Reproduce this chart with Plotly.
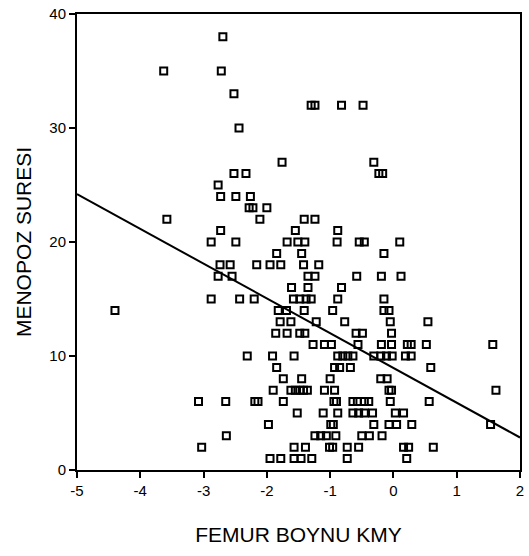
import plotly.graph_objects as go

# MENOPOZ SURESI (integer years) -> list of FEMUR BOYNU KMY values read per row
rows = {
    38: [-2.695],
    35: [-3.63, -2.72],
    33: [-2.52],
    32: [-1.30, -1.24, -0.82, -0.48],
    30: [-2.44],
    27: [-1.76, -0.31],
    26: [-2.52, -2.33, -0.23, -0.17],
    25: [-2.77],
    24: [-2.73, -2.49, -2.26],
    23: [-2.28, -2.22, -2.00],
    22: [-3.58, -2.11, -1.41, -1.24],
    21: [-2.73, -1.55, -0.88],
    20: [-2.88, -2.49, -1.68, -1.51, -1.40, -0.89, -0.54, -0.46, 0.10],
    19: [-1.845, -1.45, -0.15],
    18: [-2.74, -2.58, -2.16, -1.95, -1.78, -1.42, -1.18],
    17: [-2.77, -2.55, -1.35, -1.24, -0.58, -0.19, 0.12],
    16: [-1.61, -1.35, -0.82],
    15: [-2.88, -2.43, -2.20, -1.58, -1.48, -1.38, -1.30, -0.88, -0.15],
    14: [-4.40, -1.82, -1.69, -1.41, -0.96, -0.15, -0.07],
    13: [-1.79, -1.62, -1.22, -0.77, -0.05, 0.545],
    12: [-1.86, -1.68, -1.48, -1.40, -0.59, -0.49, -0.03],
    11: [-1.27, -1.09, -0.98, -0.56, -0.19, -0.03, 0.22, 0.28, 0.52, 1.57],
    10: [-2.31, -1.91, -1.57, -0.88, -0.80, -0.72, -0.64, -0.31, -0.20, -0.11, -0.02, 0.19, 0.28],
    9: [-1.845, -0.93, -0.85, -0.68, 0.59],
    8: [-1.74, -1.45, -1.00, -0.20, -0.10],
    7: [-1.90, -1.62, -1.55, -1.48, -1.42, -1.36, -1.09, -0.93, -0.07, -0.03, 1.62],
    6: [-3.08, -2.65, -2.19, -2.14, -1.74, -0.94, -0.90, -0.64, -0.57, -0.46, -0.39, -0.05, 0.565],
    5: [-1.52, -1.11, -0.88, -0.64, -0.55, -0.46, -0.33, 0.03, 0.16],
    4: [-1.975, -0.99, -0.95, -0.31, -0.07, 0.05, 0.29, 1.535],
    3: [-2.64, -1.24, -1.15, -1.06, -0.91, -0.50, -0.38, -0.18],
    2: [-3.03, -1.57, -1.39, -1.01, -0.96, -0.73, -0.55, 0.16, 0.24, 0.63],
    1: [-1.95, -1.78, -1.57, -1.46, -1.29, -0.73, 0.21],
}

femur = [x for yv, xs in rows.items() for x in xs]
menopoz = [yv for yv, xs in rows.items() for x in xs]

fit_intercept = 8.95
fit_slope = -3.05
fit_x = [-5, 2]
fit_y = [fit_intercept + fit_slope * x for x in fit_x]

x_ticks = [-5, -4, -3, -2, -1, 0, 1, 2]
y_ticks = [0, 10, 20, 30, 40]

fig = go.Figure()
fig.add_trace(go.Scatter(
    x=fit_x, y=fit_y, mode="lines",
    line=dict(color="black", width=2), hoverinfo="skip", showlegend=False,
))
fig.add_trace(go.Scatter(
    x=femur, y=menopoz, mode="markers",
    marker=dict(symbol="square-open", size=7, color="black",
                line=dict(color="black", width=2)),
    showlegend=False,
))

font = "Liberation Sans, Arial, sans-serif"
fig.update_layout(
    width=529, height=556,
    margin=dict(l=77, r=5, t=12, b=86),
    plot_bgcolor="white", paper_bgcolor="white",
    font=dict(family=font, color="black", size=15),
    xaxis=dict(
        range=[-5, 2], tickvals=x_ticks, ticktext=[str(v) for v in x_ticks],
        showgrid=False, zeroline=False, showline=True, linecolor="black",
        linewidth=2, mirror=True, ticks="outside", ticklen=6, tickwidth=1.5,
        tickcolor="black", tickfont=dict(size=15),
        title=dict(text="FEMUR BOYNU KMY", font=dict(size=21), standoff=29),
    ),
    yaxis=dict(
        range=[0, 40], tickvals=y_ticks, ticktext=[str(v) for v in y_ticks],
        showgrid=False, zeroline=False, showline=True, linecolor="black",
        linewidth=2, mirror=True, ticks="outside", ticklen=6, tickwidth=1.5,
        tickcolor="black", tickfont=dict(size=15),
        title=dict(text="MENOPOZ SURESI", font=dict(size=21), standoff=12),
    ),
)

fig.write_html("out.html")
